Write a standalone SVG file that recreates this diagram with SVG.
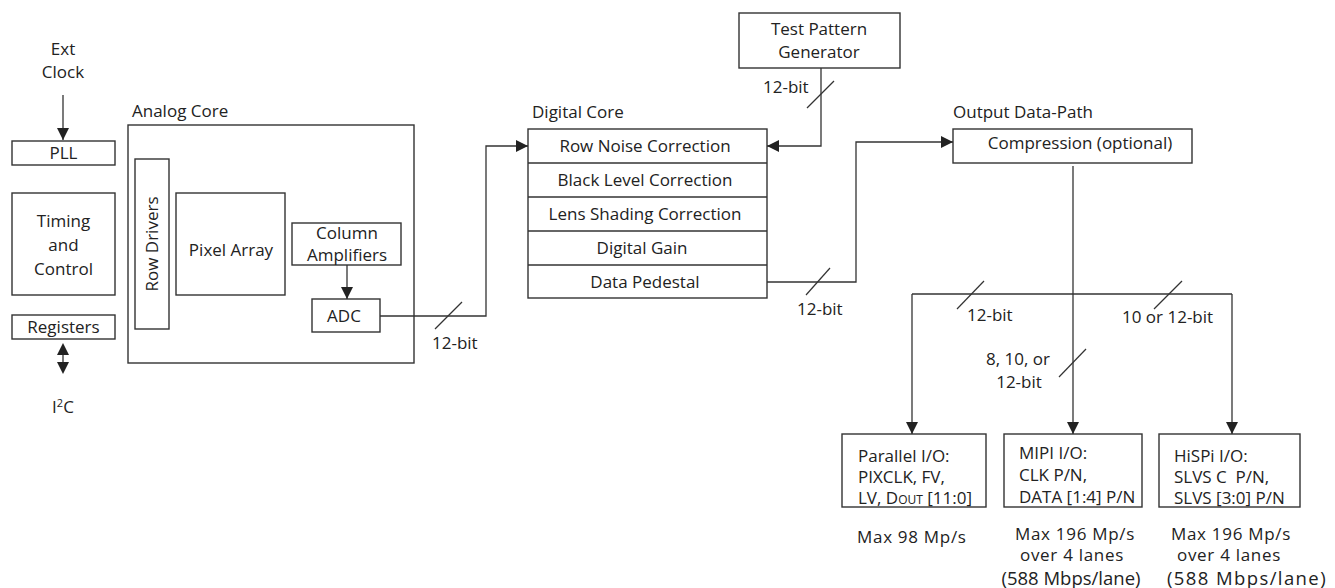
<svg xmlns="http://www.w3.org/2000/svg" width="1335" height="588" viewBox="0 0 1335 588">
  <defs>
    <marker id="arrow" markerUnits="userSpaceOnUse" markerWidth="13" markerHeight="12" refX="12" refY="6" orient="auto">
      <path d="M0,0 L12,6 L0,12 z" fill="#222"/>
    </marker>
    <style>
      .box { fill: #fff; stroke: #333; stroke-width: 1.4; }
      .wire { fill: none; stroke: #333; stroke-width: 1.3; }
      .tick { fill: none; stroke: #333; stroke-width: 1.2; }
      .head { fill: #222; stroke: none; }
      text { font-family: "Open Sans", "Noto Sans", "Liberation Sans", sans-serif; font-size: 17px; fill: #222; }
      .c { text-anchor: middle; }
      .rate { letter-spacing: 0.7px; }
      .big { font-size: 18.5px; }
    </style>
  </defs>

  <rect width="1335" height="588" fill="#fff"/>

  <!-- clocking / control column -->
  <g id="ext-clock">
    <text class="c" x="63" y="55">Ext</text>
    <text class="c" x="63" y="78">Clock</text>
  </g>
  <g id="pll">
    <rect class="box" x="12" y="141" width="103" height="24"/>
    <text class="c" x="63.5" y="159">PLL</text>
  </g>
  <g id="timing-control">
    <rect class="box" x="12" y="193" width="103" height="102"/>
    <text class="c" x="63.5" y="227">Timing</text>
    <text class="c" x="63.5" y="251">and</text>
    <text class="c" x="63.5" y="275">Control</text>
  </g>
  <g id="registers">
    <rect class="box" x="12" y="315" width="103" height="24"/>
    <text class="c" x="63.5" y="333">Registers</text>
  </g>
  <g id="i2c">
    <text class="c" x="63" y="413">I<tspan font-size="11" dy="-6">2</tspan><tspan dy="6">C</tspan></text>
  </g>

  <!-- analog core -->
  <g id="analog-core">
    <text x="132" y="117">Analog Core</text>
    <rect class="box" x="128" y="125" width="286" height="238"/>
  </g>
  <g id="row-drivers">
    <rect class="box" x="135" y="159" width="34" height="170"/>
    <text class="c" transform="translate(152,244) rotate(-90)" y="6">Row Drivers</text>
  </g>
  <g id="pixel-array">
    <rect class="box" x="176" y="193" width="109" height="102"/>
    <text class="c" x="231" y="256">Pixel Array</text>
  </g>
  <g id="column-amplifiers">
    <rect class="box" x="292" y="223" width="109" height="42"/>
    <text class="c" x="347" y="239">Column</text>
    <text class="c" x="347" y="261">Amplifiers</text>
  </g>
  <g id="adc">
    <rect class="box" x="312" y="299" width="68" height="33"/>
    <text class="c" x="344" y="322">ADC</text>
  </g>

  <!-- digital core -->
  <g id="digital-core">
    <text x="532" y="118">Digital Core</text>
    <rect class="box" x="528" y="129" width="239" height="169"/>
    <line class="wire" x1="528" y1="163" x2="767" y2="163" stroke-width="2"/>
    <line class="wire" x1="528" y1="197" x2="767" y2="197" stroke-width="2"/>
    <line class="wire" x1="528" y1="231" x2="767" y2="231" stroke-width="2"/>
    <line class="wire" x1="528" y1="265" x2="767" y2="265" stroke-width="2"/>
    <text class="c" x="645" y="152">Row Noise Correction</text>
    <text class="c" x="645" y="186">Black Level Correction</text>
    <text class="c" x="645" y="220">Lens Shading Correction</text>
    <text class="c" x="642" y="254">Digital Gain</text>
    <text class="c" x="645" y="288">Data Pedestal</text>
  </g>

  <g id="test-pattern-generator">
    <rect class="box" x="739" y="13" width="161" height="55"/>
    <text class="c" x="819" y="35">Test Pattern</text>
    <text class="c" x="819" y="58">Generator</text>
  </g>

  <!-- output data path -->
  <g id="compression">
    <text x="953" y="118">Output Data-Path</text>
    <rect class="box" x="953" y="129" width="239" height="34"/>
    <text class="c" x="1080" y="149">Compression (optional)</text>
  </g>

  <g id="parallel-io">
    <rect class="box" x="842" y="434" width="144" height="73"/>
    <text x="858" y="462">Parallel I/O:</text>
    <text x="858" y="483">PIXCLK, FV,</text>
    <text x="858" y="504">LV, D<tspan font-size="12">OUT</tspan> [11:0]</text>
    <text class="rate" x="857" y="543">Max 98 Mp/s</text>
  </g>
  <g id="mipi-io">
    <rect class="box" x="1004" y="434" width="138" height="73"/>
    <text x="1019" y="459">MIPI I/O:</text>
    <text x="1019" y="481">CLK P/N,</text>
    <text x="1019" y="503">DATA [1:4] P/N</text>
    <text class="c rate" x="1075" y="540">Max 196 Mp/s</text>
    <text class="c rate" x="1072" y="561">over 4 lanes</text>
    <text class="c big" x="1071" y="585">(588 Mbps/lane)</text>
  </g>
  <g id="hispi-io">
    <rect class="box" x="1159" y="434" width="141" height="73"/>
    <text x="1174" y="462">HiSPi I/O:</text>
    <text x="1174" y="483" xml:space="preserve">SLVS C  P/N,</text>
    <text x="1174" y="504">SLVS [3:0] P/N</text>
    <text class="c rate" x="1231" y="540">Max 196 Mp/s</text>
    <text class="c rate" x="1229" y="561">over 4 lanes</text>
    <text class="c big" x="1247" y="585" letter-spacing="1.4">(588 Mbps/lane)</text>
  </g>

  <!-- connectors -->
  <g id="connectors">
    <line class="wire" x1="63" y1="95" x2="63" y2="140" marker-end="url(#arrow)"/>
    <!-- bidirectional I2C link -->
    <line class="wire" x1="63" y1="350" x2="63" y2="367"/>
    <path class="head" d="M63,343 L69,355 L57,355 z"/>
    <path class="head" d="M63,374 L69,362 L57,362 z"/>
    <line class="wire" x1="347" y1="265" x2="347" y2="299" marker-end="url(#arrow)"/>
    <polyline class="wire" points="380,316 486,316 486,146 528,146" marker-end="url(#arrow)"/>
    <polyline class="wire" points="821,68 821,146 767,146" marker-end="url(#arrow)"/>
    <polyline class="wire" points="767,282 856,282 856,142 953,142" marker-end="url(#arrow)"/>
    <line class="wire" x1="1073" y1="166" x2="1073" y2="434" marker-end="url(#arrow)"/>
    <line class="wire" x1="912" y1="294" x2="1232" y2="294"/>
    <line class="wire" x1="912" y1="294" x2="912" y2="434" marker-end="url(#arrow)"/>
    <line class="wire" x1="1232" y1="294" x2="1232" y2="434" marker-end="url(#arrow)"/>

    <!-- bus width ticks and labels -->
    <line class="tick" x1="435" y1="329" x2="462" y2="302"/>
    <text x="432" y="349">12-bit</text>
    <line class="tick" x1="807" y1="108" x2="834" y2="81"/>
    <text x="763" y="93">12-bit</text>
    <line class="tick" x1="806" y1="295" x2="830" y2="268"/>
    <text x="797" y="315">12-bit</text>
    <line class="tick" x1="957" y1="309" x2="984" y2="281"/>
    <text x="967" y="321">12-bit</text>
    <line class="tick" x1="1154" y1="309" x2="1182" y2="281"/>
    <text x="1122" y="323">10 or 12-bit</text>
    <line class="tick" x1="1059" y1="377" x2="1086" y2="349"/>
    <text class="c" x="1018" y="365">8, 10, or</text>
    <text class="c" x="1019" y="388">12-bit</text>
  </g>
</svg>
